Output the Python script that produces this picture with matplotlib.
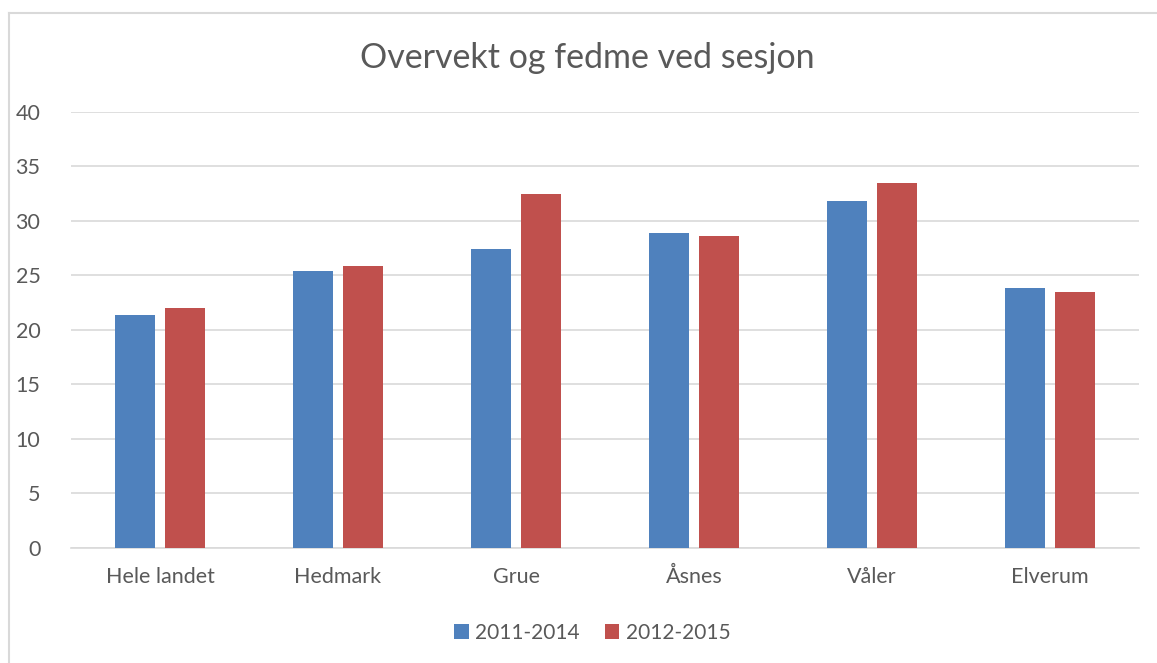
import numpy as np
import matplotlib
matplotlib.use('Agg')
import matplotlib.pyplot as plt
from matplotlib.lines import Line2D

categories = ['Hele landet', 'Hedmark', 'Grue', 'Åsnes', 'Våler', 'Elverum']
series_2011 = [21.4, 25.4, 27.4, 28.9, 31.8, 23.8]
series_2012 = [22.0, 25.9, 32.5, 28.6, 33.5, 23.5]
labels = ['2011-2014', '2012-2015']

plt.rcParams['font.family'] = ['Lato', 'DejaVu Sans']
grey = '#595959'

fig = plt.figure(figsize=(11.57, 6.63), dpi=100)
ax = fig.add_axes([0.0614, 0.1742, 0.923, 0.6568])

# outer chart border (top and left only visible)
bx = 8.5 / 1157
by = 1 - 13 / 663
fig.lines.append(Line2D([bx, 1.0], [by, by], transform=fig.transFigure,
                        color='#D9D9D9', linewidth=1.5))
fig.lines.append(Line2D([bx, bx], [0, by], transform=fig.transFigure,
                        color='#D9D9D9', linewidth=1.5))

x = np.arange(len(categories))
w = 0.225
off = 0.14
ax.bar(x - off, series_2011, w, color='#4F81BD', label=labels[0], zorder=3)
ax.bar(x + off, series_2012, w, color='#C0504D', label=labels[1], zorder=3)

ax.set_xlim(-0.5, len(categories) - 0.5)
ax.set_ylim(0, 40)
ax.set_yticks(range(0, 41, 5))
ax.set_xticks(x)
ax.set_xticklabels(categories)
ax.grid(axis='y', color='#D9D9D9', linewidth=1.2, zorder=0)
for s in ['top', 'right', 'left']:
    ax.spines[s].set_visible(False)
ax.spines['bottom'].set_color('#D9D9D9')
ax.spines['bottom'].set_linewidth(1.2)
ax.tick_params(axis='both', length=0, labelsize=15.5, labelcolor=grey)
ax.tick_params(axis='y', pad=22)
ax.tick_params(axis='x', pad=14)

fig.text(0.508, 0.913, 'Overvekt og fedme ved sesjon', ha='center', va='center',
         fontsize=24.5, color=grey)

leg = fig.legend(loc='center', bbox_to_anchor=(0.512, 0.046), ncol=2, frameon=False,
                 fontsize=15, handlelength=0.7, handleheight=0.7, handletextpad=0.3,
                 columnspacing=1.2)
for t in leg.get_texts():
    t.set_color(grey)

fig.savefig('out.png', dpi=100)
